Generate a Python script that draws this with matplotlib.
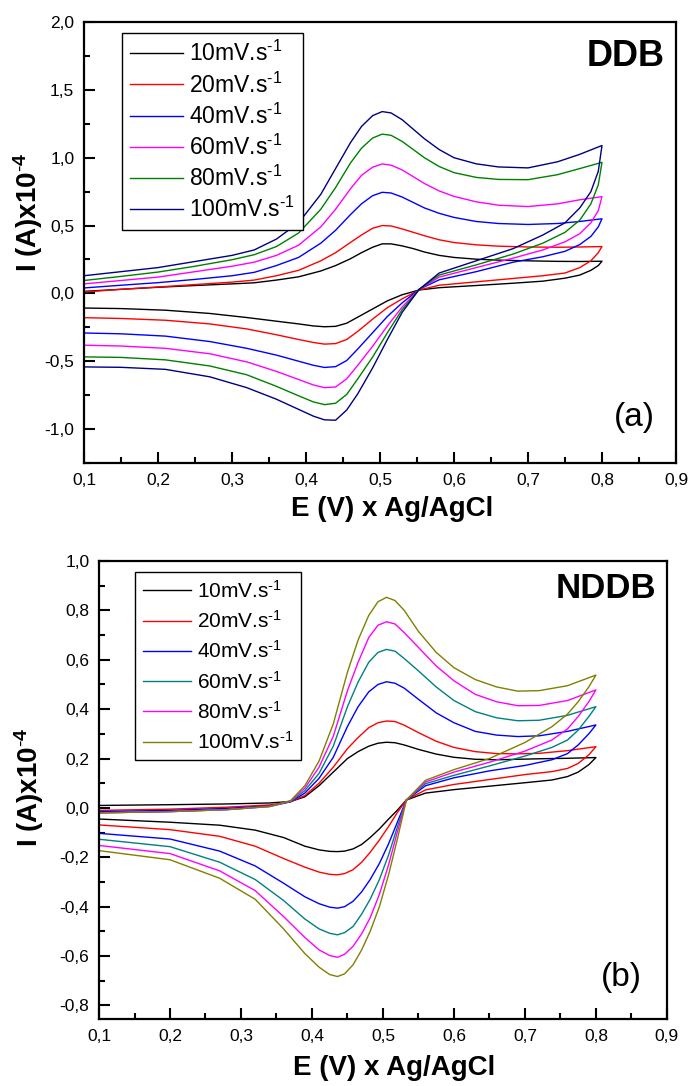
import matplotlib
matplotlib.use("Agg")
import matplotlib.pyplot as plt
from matplotlib.ticker import MultipleLocator, FuncFormatter

plt.rcParams["font.family"] = ["Liberation Sans", "DejaVu Sans"]
plt.rcParams["mathtext.fontset"] = "custom"
plt.rcParams["mathtext.rm"] = "Liberation Sans"
plt.rcParams["mathtext.bf"] = "Liberation Sans:bold"
plt.rcParams["mathtext.default"] = "regular"

rates = ["10", "20", "40", "60", "80", "100"]

# ---- panel (a) DDB ----
ddb_colors = ["#000000", "#FF0000", "#0000FF", "#FF00FF", "#008000", "#000080"]
ddb_e_fwd = [0.10, 0.15, 0.20, 0.25, 0.30, 0.33, 0.36, 0.39, 0.42, 0.44, 0.46, 0.475, 0.49,
             0.503, 0.515, 0.53, 0.545, 0.56, 0.58, 0.60, 0.63, 0.66, 0.70, 0.74, 0.77, 0.80]
ddb_e_rev = [0.80, 0.795, 0.785, 0.77, 0.75, 0.72, 0.68, 0.63, 0.58, 0.553, 0.53, 0.51, 0.49,
             0.47, 0.455, 0.44, 0.425, 0.41, 0.39, 0.36, 0.32, 0.27, 0.21, 0.15, 0.10]
ddb_fwd = [
    [0.015, 0.03, 0.045, 0.058, 0.07, 0.078, 0.098, 0.122, 0.165, 0.205, 0.255, 0.30, 0.34,
     0.365, 0.365, 0.35, 0.33, 0.305, 0.28, 0.265, 0.252, 0.245, 0.24, 0.236, 0.235, 0.237],
    [0.01, 0.03, 0.047, 0.065, 0.083, 0.098, 0.13, 0.17, 0.24, 0.30, 0.375, 0.43, 0.48,
     0.50, 0.497, 0.475, 0.45, 0.425, 0.395, 0.375, 0.358, 0.348, 0.342, 0.34, 0.342, 0.345],
    [0.04, 0.06, 0.079, 0.103, 0.13, 0.155, 0.205, 0.265, 0.37, 0.465, 0.58, 0.66, 0.72,
     0.745, 0.74, 0.71, 0.67, 0.63, 0.59, 0.56, 0.53, 0.515, 0.508, 0.515, 0.53, 0.55],
    [0.07, 0.095, 0.12, 0.16, 0.20, 0.23, 0.28, 0.355, 0.49, 0.62, 0.77, 0.87, 0.93,
     0.954, 0.945, 0.91, 0.86, 0.81, 0.755, 0.715, 0.675, 0.65, 0.64, 0.66, 0.69, 0.713],
    [0.095, 0.125, 0.157, 0.20, 0.248, 0.285, 0.345, 0.445, 0.62, 0.78, 0.96, 1.07, 1.145,
     1.174, 1.165, 1.12, 1.06, 1.0, 0.935, 0.89, 0.855, 0.84, 0.838, 0.875, 0.92, 0.966],
    [0.13, 0.16, 0.19, 0.235, 0.28, 0.32, 0.40, 0.52, 0.73, 0.92, 1.11, 1.23, 1.31,
     1.34, 1.33, 1.28, 1.21, 1.14, 1.06, 1.0, 0.955, 0.932, 0.925, 0.97, 1.025, 1.09],
]
ddb_rev = [
    [0.237, 0.205, 0.17, 0.135, 0.112, 0.09, 0.075, 0.058, 0.042, 0.025, -0.01, -0.055, -0.115,
     -0.175, -0.22, -0.243, -0.246, -0.24, -0.225, -0.205, -0.178, -0.148, -0.124, -0.112, -0.108],
    [0.345, 0.30, 0.24, 0.19, 0.15, 0.13, 0.11, 0.085, 0.06, 0.025, -0.04, -0.105, -0.19,
     -0.28, -0.34, -0.37, -0.374, -0.362, -0.34, -0.305, -0.262, -0.225, -0.198, -0.185, -0.179],
    [0.55, 0.49, 0.42, 0.36, 0.31, 0.27, 0.23, 0.16, 0.10, 0.03, -0.07, -0.17, -0.29,
     -0.41, -0.495, -0.54, -0.546, -0.53, -0.50, -0.455, -0.405, -0.355, -0.315, -0.298, -0.292],
    [0.713, 0.61, 0.52, 0.44, 0.38, 0.32, 0.26, 0.19, 0.12, 0.03, -0.10, -0.24, -0.39,
     -0.53, -0.63, -0.69, -0.695, -0.675, -0.635, -0.575, -0.505, -0.445, -0.405, -0.388, -0.382],
    [0.966, 0.80, 0.66, 0.54, 0.45, 0.37, 0.29, 0.21, 0.135, 0.03, -0.12, -0.29, -0.47,
     -0.63, -0.745, -0.81, -0.82, -0.80, -0.755, -0.685, -0.60, -0.535, -0.49, -0.472, -0.468],
    [1.09, 0.90, 0.75, 0.63, 0.52, 0.43, 0.33, 0.24, 0.15, 0.03, -0.14, -0.34, -0.55,
     -0.74, -0.86, -0.935, -0.932, -0.905, -0.855, -0.78, -0.695, -0.615, -0.56, -0.545, -0.542],
]

# ---- panel (b) NDDB ----
nddb_colors = ["#000000", "#FF0000", "#0000FF", "#008080", "#FF00FF", "#808000"]
nddb_e_fwd = [0.10, 0.20, 0.28, 0.34, 0.37, 0.39, 0.41, 0.43, 0.45, 0.465, 0.48, 0.493,
              0.505, 0.517, 0.53, 0.55, 0.575, 0.60, 0.63, 0.66, 0.69, 0.72, 0.76, 0.80]
nddb_e_rev = [0.80, 0.79, 0.775, 0.76, 0.738, 0.70, 0.65, 0.60, 0.56, 0.533, 0.52, 0.508,
              0.495, 0.482, 0.47, 0.458, 0.446, 0.436, 0.425, 0.41, 0.39, 0.36, 0.32, 0.27,
              0.20, 0.10]
nddb_fwd = [
    [0.01, 0.013, 0.016, 0.02, 0.026, 0.045, 0.09, 0.145, 0.2, 0.228, 0.25, 0.262,
     0.266, 0.264, 0.255, 0.237, 0.218, 0.205, 0.197, 0.195, 0.197, 0.199, 0.201, 0.204],
    [-0.01, -0.005, 0.003, 0.012, 0.025, 0.05, 0.10, 0.165, 0.24, 0.285, 0.325, 0.345,
     0.352, 0.35, 0.335, 0.305, 0.27, 0.245, 0.228, 0.22, 0.219, 0.221, 0.232, 0.248],
    [-0.015, -0.01, -0.002, 0.008, 0.025, 0.06, 0.12, 0.205, 0.33, 0.41, 0.47, 0.50,
     0.511, 0.505, 0.485, 0.44, 0.385, 0.345, 0.31, 0.295, 0.289, 0.292, 0.31, 0.336],
    [-0.02, -0.015, -0.007, 0.005, 0.025, 0.07, 0.14, 0.25, 0.41, 0.51, 0.59, 0.63,
     0.642, 0.635, 0.605, 0.555, 0.49, 0.435, 0.39, 0.365, 0.353, 0.355, 0.375, 0.41],
    [-0.02, -0.015, -0.007, 0.006, 0.028, 0.08, 0.165, 0.29, 0.475, 0.59, 0.69, 0.74,
     0.754, 0.745, 0.71, 0.65, 0.575, 0.515, 0.46, 0.43, 0.414, 0.415, 0.435, 0.478],
    [-0.02, -0.015, -0.007, 0.006, 0.03, 0.09, 0.19, 0.34, 0.55, 0.68, 0.78, 0.835,
     0.853, 0.84, 0.80, 0.715, 0.63, 0.568, 0.52, 0.49, 0.473, 0.475, 0.495, 0.538],
]
nddb_rev = [
    [0.204, 0.175, 0.145, 0.127, 0.113, 0.102, 0.088, 0.074, 0.06, 0.032, -0.01, -0.045, -0.085,
     -0.12, -0.148, -0.166, -0.175, -0.177, -0.176, -0.17, -0.155, -0.12, -0.09, -0.07, -0.058, -0.045],
    [0.248, 0.215, 0.18, 0.16, 0.147, 0.135, 0.115, 0.095, 0.073, 0.032, -0.02, -0.075, -0.13,
     -0.18, -0.22, -0.25, -0.266, -0.271, -0.269, -0.26, -0.24, -0.205, -0.155, -0.115, -0.088, -0.069],
    [0.336, 0.30, 0.255, 0.22, 0.195, 0.172, 0.15, 0.122, 0.09, 0.032, -0.06, -0.145, -0.225,
     -0.29, -0.34, -0.378, -0.40, -0.406, -0.402, -0.388, -0.36, -0.305, -0.235, -0.175, -0.126, -0.103],
    [0.41, 0.37, 0.315, 0.275, 0.245, 0.21, 0.17, 0.132, 0.098, 0.032, -0.08, -0.19, -0.29,
     -0.37, -0.43, -0.48, -0.505, -0.514, -0.508, -0.49, -0.45, -0.375, -0.29, -0.22, -0.157, -0.127],
    [0.478, 0.43, 0.37, 0.32, 0.275, 0.23, 0.185, 0.145, 0.105, 0.032, -0.10, -0.23, -0.35,
     -0.445, -0.51, -0.56, -0.593, -0.605, -0.598, -0.575, -0.525, -0.44, -0.335, -0.255, -0.185, -0.152],
    [0.538, 0.49, 0.43, 0.38, 0.329, 0.265, 0.20, 0.155, 0.112, 0.032, -0.13, -0.27, -0.40,
     -0.50, -0.575, -0.635, -0.672, -0.683, -0.675, -0.645, -0.59, -0.49, -0.37, -0.285, -0.21, -0.173],
]


def comma(v, pos):
    return f"{v:.1f}".replace(".", ",")


def style_axes(ax, ylim, ymajor, yminor):
    ax.set_xlim(0.1, 0.9)
    ax.set_ylim(*ylim)
    ax.xaxis.set_major_locator(MultipleLocator(0.1))
    ax.xaxis.set_minor_locator(MultipleLocator(0.05))
    ax.yaxis.set_major_locator(MultipleLocator(ymajor))
    ax.yaxis.set_minor_locator(MultipleLocator(yminor))
    ax.xaxis.set_major_formatter(FuncFormatter(comma))
    ax.yaxis.set_major_formatter(FuncFormatter(comma))
    ax.tick_params(which="both", direction="in", top=False, right=False, width=1.5)
    ax.tick_params(which="major", length=8, labelsize=12.5, pad=7)
    ax.tick_params(which="minor", length=4)
    for s in ax.spines.values():
        s.set_linewidth(1.6)
    ax.set_xlabel("E (V) x Ag/AgCl", fontsize=20, fontweight="bold")
    ax.set_ylabel(r"I (A)x10$^{\mathbf{\text{-}4}}$", fontsize=20, fontweight="bold")


def draw_panel(ax, e_fwd, e_rev, fwd, rev, colors, fs, spacing):
    for i in range(len(rates)):
        ax.plot(e_fwd + e_rev, fwd[i] + rev[i], color=colors[i], lw=1.0,
                label=rates[i] + r"mV.s$^{\text{-}1}$")
    leg = ax.legend(loc="upper left", bbox_to_anchor=(0.064, 0.975), borderaxespad=0,
                    fontsize=fs, handlelength=2.3, handletextpad=0.3,
                    labelspacing=spacing, borderpad=0.35, fancybox=False,
                    edgecolor="black", framealpha=1)
    leg.get_frame().set_linewidth(1.0)


fig = plt.figure(figsize=(6.9, 10.86), dpi=100)
ax1 = fig.add_axes([0.1217, 0.5737, 0.858, 0.406])
ax2 = fig.add_axes([0.1435, 0.0617, 0.823, 0.4217])

draw_panel(ax1, ddb_e_fwd, ddb_e_rev, ddb_fwd, ddb_rev, ddb_colors, 16.5, 0.26)
style_axes(ax1, (-1.25, 2.0), 0.5, 0.25)
ax1.text(0.981, 0.921, "DDB", transform=ax1.transAxes, ha="right", va="center",
         fontsize=26, fontweight="bold")
ax1.text(0.965, 0.102, "(a)", transform=ax1.transAxes, ha="right", va="center",
         fontsize=24)
ax1.yaxis.set_label_coords(-0.066, 0.569)
ax1.xaxis.set_label_coords(0.52, -0.075)

draw_panel(ax2, nddb_e_fwd, nddb_e_rev, nddb_fwd, nddb_rev, nddb_colors, 15, 0.4)
style_axes(ax2, (-0.855, 1.0), 0.2, 0.1)
ax2.text(0.981, 0.941, "NDDB", transform=ax2.transAxes, ha="right", va="center",
         fontsize=25, fontweight="bold")
ax2.text(0.956, 0.09, "(b)", transform=ax2.transAxes, ha="right", va="center",
         fontsize=24)
ax2.yaxis.set_label_coords(-0.093, 0.507)
ax2.xaxis.set_label_coords(0.52, -0.079)

fig.savefig("out.png", dpi=100)
